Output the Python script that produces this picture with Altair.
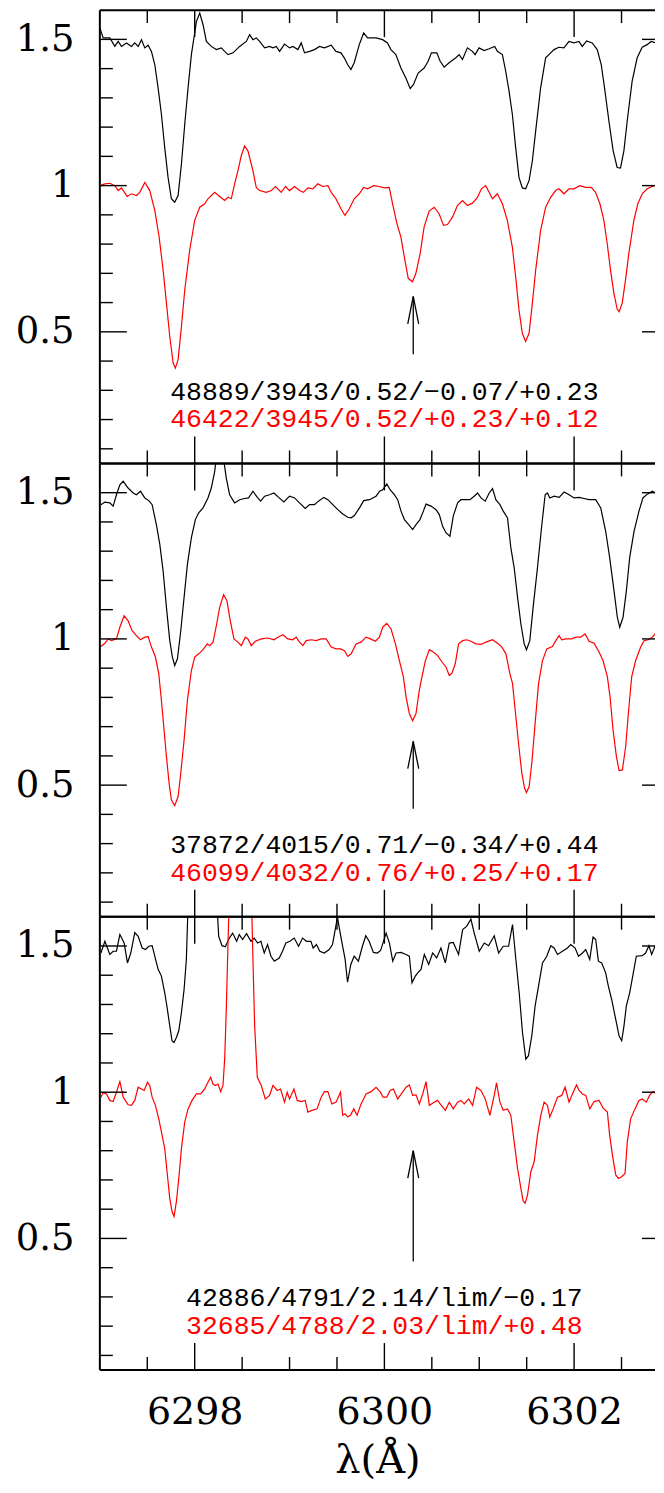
import altair as alt
import pandas as pd

# ---------------- data (wavelength in Angstrom, normalised flux) ----------------
p1_black = [(6297.000,1.539),(6297.035,1.505),(6297.105,1.505),(6297.158,1.476),(6297.193,1.493),(6297.228,1.476),(6297.281,1.488),(6297.333,1.476),(6297.368,1.488),(6297.404,1.476),(6297.439,1.499),(6297.474,1.471),(6297.509,1.480),(6297.544,1.459),(6297.579,1.414),(6297.614,1.334),(6297.649,1.244),(6297.684,1.130),(6297.719,1.028),(6297.754,0.955),(6297.789,0.943),(6297.825,0.966),(6297.860,1.074),(6297.895,1.210),(6297.930,1.334),(6297.965,1.448),(6298.018,1.561),(6298.053,1.590),(6298.088,1.550),(6298.123,1.493),(6298.175,1.476),(6298.228,1.465),(6298.281,1.471),(6298.316,1.459),(6298.351,1.448),(6298.404,1.454),(6298.474,1.476),(6298.544,1.493),(6298.579,1.516),(6298.614,1.499),(6298.649,1.505),(6298.684,1.493),(6298.737,1.471),(6298.789,1.476),(6298.825,1.471),(6298.860,1.476),(6298.895,1.459),(6298.947,1.484),(6299.000,1.471),(6299.035,1.476),(6299.088,1.465),(6299.123,1.488),(6299.158,1.454),(6299.211,1.459),(6299.263,1.465),(6299.316,1.476),(6299.368,1.471),(6299.439,1.480),
(6299.489,1.459),(6299.542,1.454),(6299.577,1.437),(6299.612,1.414),(6299.647,1.397),(6299.682,1.420),(6299.735,1.482),(6299.781,1.522),(6299.823,1.505),(6299.911,1.505),(6299.981,1.499),(6300.033,1.488),(6300.068,1.465),(6300.121,1.448),(6300.174,1.402),(6300.226,1.368),(6300.272,1.332),(6300.307,1.346),(6300.356,1.385),(6300.419,1.402),(6300.461,1.425),(6300.496,1.454),(6300.553,1.454),(6300.588,1.425),(6300.630,1.405),(6300.682,1.420),(6300.753,1.437),(6300.788,1.448),(6300.823,1.431),(6300.875,1.471),(6300.928,1.459),(6300.956,1.448),(6300.998,1.471),(6301.051,1.462),(6301.104,1.468),(6301.163,1.476),(6301.191,1.459),(6301.244,1.448),(6301.279,1.391),(6301.314,1.323),(6301.349,1.244),(6301.384,1.130),(6301.419,1.028),(6301.454,0.992),(6301.489,0.989),(6301.525,1.017),(6301.560,1.085),(6301.595,1.187),(6301.647,1.334),(6301.700,1.437),(6301.753,1.454),(6301.788,1.465),(6301.840,1.473),(6301.893,1.471),(6301.946,1.493),(6301.998,1.488),(6302.051,1.493),(6302.086,1.476),(6302.132,1.495),(6302.191,1.488),(6302.244,1.465),(6302.286,1.414),(6302.321,1.334),(6302.367,1.221),(6302.412,1.119),(6302.454,1.062),(6302.489,1.060),(6302.525,1.119),(6302.560,1.221),(6302.612,1.357),(6302.665,1.437),(6302.718,1.473),(6302.770,1.482),(6302.812,1.493),(6302.858,1.488),(6302.928,1.505)]

p1_red = [(6297.000,1.000),(6297.053,1.006),(6297.105,1.008),(6297.158,1.000),(6297.193,0.983),(6297.228,0.992),(6297.288,0.963),(6297.333,0.972),(6297.386,0.966),(6297.421,0.977),(6297.474,1.011),(6297.526,0.983),(6297.579,0.915),(6297.625,0.824),(6297.667,0.711),(6297.702,0.598),(6297.737,0.484),(6297.772,0.394),(6297.796,0.376),(6297.825,0.405),(6297.860,0.518),(6297.895,0.643),(6297.947,0.779),(6298.000,0.881),(6298.053,0.926),(6298.105,0.938),(6298.140,0.955),(6298.211,0.977),(6298.263,0.963),(6298.316,0.949),(6298.351,0.960),(6298.386,0.955),(6298.421,1.006),(6298.456,1.051),(6298.491,1.102),(6298.526,1.136),(6298.561,1.119),(6298.614,1.051),(6298.649,0.994),(6298.684,0.983),(6298.754,0.977),(6298.807,0.983),(6298.853,0.997),(6298.912,0.977),(6298.958,0.997),(6299.000,0.983),(6299.053,0.997),(6299.105,0.983),(6299.147,0.977),(6299.193,0.992),(6299.246,0.989),(6299.298,1.006),(6299.351,0.997),(6299.404,1.000),(6299.439,0.977),
(6299.489,0.955),(6299.542,0.921),(6299.584,0.898),(6299.630,0.921),(6299.682,0.955),(6299.735,0.972),(6299.781,0.994),(6299.823,0.989),(6299.886,1.000),(6299.946,0.997),(6299.998,0.992),(6300.051,0.994),(6300.086,0.938),(6300.132,0.870),(6300.174,0.824),(6300.216,0.745),(6300.251,0.683),(6300.296,0.671),(6300.332,0.700),(6300.377,0.768),(6300.419,0.859),(6300.472,0.913),(6300.525,0.926),(6300.577,0.904),(6300.623,0.864),(6300.665,0.867),(6300.718,0.892),(6300.770,0.932),(6300.823,0.949),(6300.875,0.932),(6300.928,0.940),(6300.981,0.960),(6301.023,0.989),(6301.068,1.000),(6301.104,0.977),(6301.139,0.955),(6301.191,0.972),(6301.244,0.938),(6301.296,0.881),(6301.349,0.790),(6301.384,0.688),(6301.419,0.575),(6301.454,0.495),(6301.489,0.467),(6301.525,0.495),(6301.560,0.598),(6301.595,0.711),(6301.647,0.847),(6301.700,0.926),(6301.753,0.960),(6301.805,0.983),(6301.840,0.989),(6301.893,0.972),(6301.946,0.989),(6301.998,0.989),(6302.061,1.000),(6302.121,0.994),(6302.181,0.994),(6302.226,0.977),(6302.272,0.938),(6302.314,0.881),(6302.349,0.802),(6302.384,0.711),(6302.419,0.633),(6302.454,0.578),(6302.475,0.569),(6302.507,0.598),(6302.542,0.677),(6302.577,0.768),(6302.630,0.881),(6302.672,0.938),(6302.718,0.972),(6302.770,0.989),(6302.840,1.000),(6302.928,1.000)]

p2_black = [(6297.011,1.459),(6297.053,1.468),(6297.105,1.465),(6297.140,1.454),(6297.175,1.493),(6297.211,1.527),(6297.246,1.539),(6297.298,1.516),(6297.351,1.499),(6297.386,1.493),(6297.428,1.505),(6297.474,1.482),(6297.516,1.473),(6297.551,1.459),(6297.596,1.391),(6297.632,1.323),(6297.667,1.232),(6297.702,1.108),(6297.737,0.994),(6297.765,0.938),(6297.789,0.909),(6297.818,0.932),(6297.853,1.028),(6297.888,1.142),(6297.923,1.255),(6297.965,1.346),(6298.007,1.408),(6298.042,1.431),(6298.088,1.448),(6298.140,1.482),(6298.175,1.516),(6298.211,1.573),(6298.235,1.640),(6298.265,1.680),(6298.298,1.630),(6298.333,1.550),(6298.368,1.493),(6298.421,1.465),(6298.474,1.476),(6298.526,1.480),(6298.568,1.482),(6298.614,1.505),(6298.660,1.484),(6298.695,1.471),(6298.737,1.488),(6298.789,1.493),(6298.835,1.499),(6298.884,1.484),(6298.940,1.468),(6299.000,1.488),(6299.053,1.482),(6299.105,1.465),(6299.165,1.446),(6299.211,1.459),(6299.263,1.459),(6299.305,1.471),(6299.361,1.484),(6299.404,1.476),(6299.456,1.459),(6299.509,1.442),(6299.561,1.427),(6299.614,1.416),(6299.649,1.414),(6299.684,1.422),(6299.737,1.448),(6299.782,1.473),(6299.842,1.476),(6299.912,1.488),(6299.950,1.505),(6299.982,1.510),(6300.025,1.530),
(6300.060,1.510),(6300.105,1.493),(6300.140,1.476),(6300.175,1.437),(6300.211,1.408),(6300.256,1.391),(6300.298,1.374),(6300.333,1.391),(6300.375,1.408),(6300.411,1.437),(6300.439,1.461),(6300.491,1.454),(6300.544,1.442),(6300.579,1.425),(6300.614,1.385),(6300.649,1.363),(6300.691,1.351),(6300.726,1.420),(6300.772,1.465),(6300.807,1.476),(6300.853,1.476),(6300.902,1.476),(6300.947,1.488),(6300.982,1.499),(6301.018,1.482),(6301.063,1.471),(6301.105,1.499),(6301.140,1.514),(6301.175,1.476),(6301.218,1.459),(6301.253,1.437),(6301.298,1.414),(6301.333,1.312),(6301.368,1.244),(6301.404,1.142),(6301.439,1.051),(6301.474,0.983),(6301.498,0.963),(6301.533,0.994),(6301.568,1.108),(6301.614,1.244),(6301.660,1.391),(6301.695,1.493),(6301.719,1.499),(6301.744,1.482),(6301.789,1.488),(6301.842,1.484),(6301.895,1.502),(6301.947,1.493),(6302.000,1.482),(6302.053,1.484),(6302.105,1.480),(6302.158,1.476),(6302.228,1.476),(6302.281,1.448),(6302.333,1.368),(6302.375,1.278),(6302.421,1.164),(6302.456,1.074),(6302.481,1.040),(6302.516,1.074),(6302.551,1.164),(6302.586,1.278),(6302.632,1.368),(6302.684,1.437),(6302.726,1.482),(6302.772,1.495),(6302.825,1.505),(6302.877,1.495),(6302.912,1.505),(6302.937,1.518)]

p2_red = [(6297.011,0.974),(6297.053,0.985),(6297.088,1.000),(6297.123,0.994),(6297.175,1.000),(6297.211,1.040),(6297.256,1.079),(6297.298,1.062),(6297.340,1.028),(6297.386,1.011),(6297.428,0.997),(6297.474,1.006),(6297.509,1.008),(6297.544,0.972),(6297.586,0.938),(6297.621,0.881),(6297.649,0.790),(6297.677,0.688),(6297.702,0.598),(6297.730,0.507),(6297.754,0.450),(6297.789,0.430),(6297.825,0.461),(6297.853,0.541),(6297.888,0.654),(6297.923,0.790),(6297.965,0.892),(6298.000,0.938),(6298.042,0.949),(6298.088,0.963),(6298.133,0.983),(6298.158,0.977),(6298.193,0.989),(6298.228,1.045),(6298.263,1.108),(6298.305,1.151),(6298.340,1.130),(6298.375,1.062),(6298.414,1.000),(6298.456,0.989),(6298.491,0.977),(6298.533,1.006),(6298.561,1.000),(6298.596,0.977),(6298.639,0.992),(6298.702,1.000),(6298.772,1.003),(6298.835,0.997),(6298.877,1.006),(6298.930,1.014),(6298.982,1.000),(6299.035,0.997),(6299.070,1.006),(6299.105,0.989),(6299.140,0.977),(6299.175,0.994),(6299.228,0.997),(6299.281,0.994),(6299.333,1.000),(6299.386,1.000),(6299.439,0.972),(6299.491,0.966),(6299.537,0.966),(6299.579,0.960),(6299.614,0.940),(6299.649,0.949),(6299.702,0.983),(6299.754,0.989),(6299.807,1.006),(6299.853,1.000),(6299.905,0.992),(6299.947,1.006),(6299.982,1.040),(6300.025,1.053),
(6300.070,1.034),(6300.116,0.983),(6300.158,0.926),(6300.200,0.870),(6300.228,0.802),(6300.263,0.745),(6300.298,0.720),(6300.333,0.745),(6300.368,0.824),(6300.396,0.870),(6300.432,0.926),(6300.474,0.963),(6300.516,0.955),(6300.561,0.943),(6300.607,0.921),(6300.649,0.904),(6300.684,0.875),(6300.712,0.883),(6300.747,0.915),(6300.782,0.983),(6300.825,0.994),(6300.867,0.997),(6300.912,0.992),(6300.965,0.983),(6301.018,0.981),(6301.070,0.989),(6301.140,0.997),(6301.193,0.985),(6301.239,0.972),(6301.281,0.949),(6301.323,0.881),(6301.351,0.847),(6301.379,0.756),(6301.414,0.643),(6301.449,0.541),(6301.477,0.490),(6301.498,0.475),(6301.526,0.495),(6301.554,0.575),(6301.589,0.711),(6301.625,0.847),(6301.667,0.926),(6301.712,0.966),(6301.772,0.974),(6301.807,0.994),(6301.842,1.011),(6301.870,0.997),(6301.912,1.000),(6301.975,1.000),(6302.018,1.006),(6302.070,1.006),(6302.116,1.017),(6302.158,0.992),(6302.211,0.985),(6302.263,0.955),(6302.305,0.926),(6302.351,0.870),(6302.379,0.802),(6302.411,0.688),(6302.446,0.598),(6302.474,0.550),(6302.509,0.552),(6302.544,0.632),(6302.572,0.745),(6302.607,0.870),(6302.649,0.926),(6302.702,0.972),(6302.737,0.994),(6302.782,0.997),(6302.825,1.006),(6302.853,1.017),(6302.895,1.000),(6302.937,1.000)]

p3_black = [(6297.011,1.476),(6297.053,1.516),(6297.105,1.471),(6297.140,1.482),(6297.175,1.482),(6297.211,1.539),(6297.256,1.510),(6297.291,1.442),(6297.326,1.476),(6297.368,1.546),(6297.404,1.533),(6297.446,1.493),(6297.481,1.488),(6297.516,1.499),(6297.551,1.501),(6297.579,1.465),(6297.614,1.420),(6297.649,1.397),(6297.684,1.340),(6297.712,1.283),(6297.737,1.227),(6297.761,1.176),(6297.782,1.170),(6297.807,1.187),(6297.832,1.210),(6297.860,1.272),(6297.888,1.351),(6297.912,1.454),(6297.930,1.640),(6297.960,1.800),(6298.200,1.800),(6298.235,1.640),(6298.253,1.533),(6298.288,1.501),(6298.323,1.497),(6298.365,1.527),(6298.400,1.544),(6298.442,1.516),(6298.470,1.539),(6298.505,1.522),(6298.547,1.542),(6298.593,1.516),(6298.628,1.527),(6298.663,1.510),(6298.698,1.516),(6298.733,1.476),(6298.768,1.505),(6298.804,1.465),(6298.839,1.448),(6298.891,1.459),(6298.926,1.482),(6298.961,1.510),(6299.004,1.516),(6299.049,1.527),(6299.095,1.499),(6299.137,1.527),(6299.179,1.516),(6299.225,1.516),(6299.249,1.493),(6299.284,1.505),(6299.319,1.482),(6299.365,1.476),(6299.418,1.488),(6299.453,1.505),(6299.505,1.599),(6299.540,1.533),(6299.586,1.454),(6299.611,1.376),(6299.646,1.437),(6299.681,1.465),(6299.726,1.448),(6299.768,1.499),(6299.804,1.535),(6299.839,1.516),(6299.884,1.478),(6299.926,1.476),(6299.960,1.485),
(6300.018,1.544),(6300.053,1.510),(6300.088,1.448),(6300.123,1.476),(6300.175,1.478),(6300.228,1.471),(6300.263,1.465),(6300.291,1.374),(6300.326,1.397),(6300.351,1.408),(6300.386,1.420),(6300.421,1.471),(6300.467,1.437),(6300.509,1.476),(6300.551,1.459),(6300.596,1.493),(6300.642,1.442),(6300.684,1.510),(6300.726,1.512),(6300.782,1.471),(6300.825,1.556),(6300.867,1.567),(6300.912,1.592),(6300.947,1.544),(6301.000,1.482),(6301.053,1.510),(6301.098,1.501),(6301.158,1.535),(6301.204,1.476),(6301.253,1.499),(6301.309,1.499),(6301.351,1.573),(6301.386,1.454),(6301.421,1.340),(6301.456,1.204),(6301.491,1.113),(6301.519,1.125),(6301.554,1.193),(6301.589,1.295),(6301.625,1.363),(6301.667,1.442),(6301.712,1.465),(6301.754,1.501),(6301.789,1.493),(6301.825,1.471),(6301.877,1.482),(6301.930,1.493),(6301.965,1.505),(6302.011,1.493),(6302.046,1.465),(6302.088,1.476),(6302.123,1.488),(6302.165,1.454),(6302.200,1.531),(6302.228,1.522),(6302.256,1.448),(6302.291,1.442),(6302.333,1.408),(6302.361,1.363),(6302.396,1.317),(6302.439,1.249),(6302.474,1.193),(6302.502,1.176),(6302.526,1.227),(6302.551,1.295),(6302.586,1.340),(6302.621,1.402),(6302.656,1.465),(6302.719,1.467),(6302.754,1.476),(6302.789,1.501),(6302.818,1.471),(6302.853,1.499),(6302.888,1.476),(6302.937,1.478)]

p3_red = [(6297.011,0.983),(6297.035,0.998),(6297.070,0.994),(6297.105,0.972),(6297.140,0.968),(6297.175,1.000),(6297.211,1.036),(6297.246,0.983),(6297.298,0.957),(6297.333,0.955),(6297.368,0.972),(6297.404,1.017),(6297.439,1.011),(6297.467,1.006),(6297.502,1.034),(6297.526,1.023),(6297.551,0.983),(6297.586,0.955),(6297.621,0.909),(6297.649,0.864),(6297.684,0.807),(6297.712,0.717),(6297.737,0.637),(6297.761,0.592),(6297.782,0.575),(6297.807,0.626),(6297.832,0.705),(6297.860,0.807),(6297.895,0.898),(6297.930,0.943),(6297.972,0.972),(6298.018,0.994),(6298.063,0.994),(6298.105,1.011),(6298.140,1.034),(6298.168,1.051),(6298.193,1.028),(6298.218,1.023),(6298.246,1.028),(6298.274,1.002),(6298.298,1.023),(6298.316,1.113),(6298.333,1.283),(6298.351,1.510),(6298.368,1.700),(6298.400,2.000),(6298.570,2.000),(6298.596,1.700),(6298.614,1.454),(6298.632,1.227),(6298.660,1.051),(6298.702,1.023),(6298.744,0.977),(6298.789,0.989),(6298.825,1.023),(6298.870,1.006),(6298.905,1.011),(6298.947,0.966),(6298.975,1.000),(6299.000,0.977),(6299.046,1.011),(6299.081,0.972),(6299.123,0.968),(6299.165,0.972),(6299.193,0.932),(6299.235,0.938),(6299.291,0.943),(6299.333,0.983),(6299.368,1.002),(6299.404,1.002),(6299.446,0.960),(6299.491,0.966),(6299.537,1.000),(6299.561,0.921),(6299.586,0.926),(6299.614,0.915),(6299.642,0.921),(6299.677,0.943),(6299.712,0.921),(6299.754,0.960),(6299.807,0.994),(6299.860,1.002),(6299.912,1.017),(6299.958,1.000),(6299.986,0.983),
(6300.025,0.983),(6300.060,1.006),(6300.095,1.011),(6300.140,0.977),(6300.186,0.998),(6300.228,1.017),(6300.263,1.025),(6300.298,0.989),(6300.333,0.991),(6300.368,0.960),(6300.404,0.994),(6300.439,1.036),(6300.474,0.955),(6300.516,0.964),(6300.561,0.972),(6300.596,0.957),(6300.642,0.938),(6300.684,0.966),(6300.726,0.943),(6300.772,0.966),(6300.807,0.972),(6300.842,0.960),(6300.888,0.977),(6300.930,0.955),(6300.972,1.017),(6301.018,1.006),(6301.063,0.977),(6301.112,0.921),(6301.158,0.989),(6301.182,1.032),(6301.218,0.966),(6301.253,0.938),(6301.298,0.943),(6301.333,0.921),(6301.368,0.830),(6301.404,0.739),(6301.439,0.671),(6301.463,0.628),(6301.484,0.620),(6301.509,0.649),(6301.544,0.728),(6301.579,0.762),(6301.614,0.853),(6301.649,0.921),(6301.684,0.966),(6301.719,0.955),(6301.744,0.915),(6301.779,0.943),(6301.825,0.983),(6301.870,0.989),(6301.905,1.017),(6301.947,0.966),(6301.982,0.994),(6302.025,1.025),(6302.053,1.006),(6302.088,0.994),(6302.123,0.989),(6302.165,0.943),(6302.211,0.968),(6302.263,0.972),(6302.305,0.946),(6302.351,0.932),(6302.375,0.853),(6302.404,0.785),(6302.439,0.717),(6302.467,0.705),(6302.502,0.711),(6302.537,0.722),(6302.561,0.830),(6302.596,0.909),(6302.642,0.943),(6302.684,0.972),(6302.719,0.977),(6302.761,0.966),(6302.796,0.989),(6302.832,1.002),(6302.867,0.994),(6302.902,1.006),(6302.937,1.002)]

labels_black = ["48889/3943/0.52/\u22120.07/+0.23", "37872/4015/0.71/\u22120.34/+0.44", "42886/4791/2.14/lim/\u22120.17"]
labels_red = ["46422/3945/0.52/+0.23/+0.12", "46099/4032/0.76/+0.25/+0.17", "32685/4788/2.03/lim/+0.48"]

arrow_wl = 6300.304
arrow_tip = [0.621, 0.650, 0.800]
arrow_tail = [0.423, 0.419, 0.421]

y_major = [0.5, 1.0, 1.5]
y_minor = [0.1, 0.2, 0.3, 0.4, 0.6, 0.7, 0.8, 0.9, 1.1, 1.2, 1.3, 1.4]
x_major = [6298, 6300, 6302]
x_minor = [6297.5, 6298.5, 6299, 6299.5, 6300.5, 6301, 6301.5, 6302.5]

# ---------------- layout / style ----------------
W = 556            # plot right edge kept inside the page (no horizontal overflow)
H = 454
XDOM = [6297.0, 6302.853]
YDOM = [0.05, 1.6]
AXFONT = "DejaVu Serif"
TXTFONT = "Liberation Mono"

xscale = alt.Scale(domain=XDOM, nice=False, zero=False)
yscale = alt.Scale(domain=YDOM, nice=False, zero=False)
one = pd.DataFrame({"k": [0]})


def spec_df(black, red):
    rows = [{"wl": w, "flux": f, "series": "black"} for w, f in black]
    rows += [{"wl": w, "flux": f, "series": "red"} for w, f in red]
    return pd.DataFrame(rows)


def panel(i, black, red, show_x):
    if show_x:
        xaxis = alt.Axis(values=x_major, format="d", ticks=False, domain=False, grid=False,
                         labelFont=AXFONT, labelFontSize=38, labelColor="black", labelPadding=24,
                         labelFlush=False, title="\u03bb(\u00c5)", titleFont=AXFONT, titleFontSize=40,
                         titleFontWeight="normal", titleColor="black", titlePadding=9)
    else:
        xaxis = None
    yaxis = alt.Axis(values=y_major, format="~g", ticks=False, domain=False, grid=False,
                     labelFont=AXFONT, labelFontSize=37, labelColor="black", labelPadding=26,
                     title=None)
    X = alt.X("wl:Q", scale=xscale, axis=xaxis)
    Y = alt.Y("flux:Q", scale=yscale, axis=yaxis)

    lines = alt.Chart(spec_df(black, red)).mark_line(strokeWidth=1.2, clip=True).encode(
        x=X, y=Y,
        color=alt.Color("series:N", scale=alt.Scale(domain=["black", "red"], range=["#000000", "#ff0000"]), legend=None),
    )
    rule = dict(color="black", strokeWidth=2)
    frame_l = alt.Chart(one).mark_rule(**rule).encode(x=alt.value(0), y=alt.value(0), y2=alt.value(H))
    frame_t = alt.Chart(one).mark_rule(**rule).encode(x=alt.value(0), x2=alt.value(W), y=alt.value(0))
    frame_b = alt.Chart(one).mark_rule(**rule).encode(x=alt.value(0), x2=alt.value(W), y=alt.value(H))

    tk = dict(color="black", strokeWidth=1.4)
    ymaj = pd.DataFrame({"flux": y_major})
    ymin = pd.DataFrame({"flux": y_minor})
    xmaj = pd.DataFrame({"wl": x_major})
    xmin = pd.DataFrame({"wl": x_minor})
    t1 = alt.Chart(ymaj).mark_rule(**tk).encode(y=Y, x=alt.value(0), x2=alt.value(27))
    t2 = alt.Chart(ymaj).mark_rule(**tk).encode(y=Y, x=alt.value(W - 13), x2=alt.value(W))
    t3 = alt.Chart(ymin).mark_rule(**tk).encode(y=Y, x=alt.value(0), x2=alt.value(13))
    t5 = alt.Chart(xmaj).mark_rule(**tk).encode(x=X, y=alt.value(0), y2=alt.value(27))
    t6 = alt.Chart(xmaj).mark_rule(**tk).encode(x=X, y=alt.value(H - 27), y2=alt.value(H))
    t7 = alt.Chart(xmin).mark_rule(**tk).encode(x=X, y=alt.value(0), y2=alt.value(13))
    t8 = alt.Chart(xmin).mark_rule(**tk).encode(x=X, y=alt.value(H - 13), y2=alt.value(H))

    tb = alt.Chart(pd.DataFrame({"wl": [6300.0], "txt": [labels_black[i]]})).mark_text(
        font=TXTFONT, fontSize=26.5, align="center", baseline="alphabetic", color="black"
    ).encode(x=X, y=alt.value(390), text="txt:N")
    tr = alt.Chart(pd.DataFrame({"wl": [6300.0], "txt": [labels_red[i]]})).mark_text(
        font=TXTFONT, fontSize=26.5, align="center", baseline="alphabetic", color="#ff0000"
    ).encode(x=X, y=alt.value(418), text="txt:N")

    adf = pd.DataFrame({"wl": [arrow_wl], "flux": [arrow_tip[i]], "flux2": [arrow_tail[i]]})
    shaft = alt.Chart(adf).mark_rule(color="black", strokeWidth=1.3).encode(x=X, y=Y, y2="flux2:Q")
    head = alt.Chart(adf).mark_point(shape="M-0.4,2L0,0L0.4,2", size=750, filled=False,
                                     color="black", strokeWidth=1.3, opacity=1).encode(x=X, y=Y)

    return alt.layer(lines, t1, t2, t3, t5, t6, t7, t8, frame_l, frame_t, frame_b,
                     tb, tr, shaft, head).properties(width=W, height=H)


chart = alt.vconcat(
    panel(0, p1_black, p1_red, False),
    panel(1, p2_black, p2_red, False),
    panel(2, p3_black, p3_red, True),
    spacing=0, bounds="flush",
).configure_view(stroke=None).properties(
    padding={"left": 7, "top": 0, "right": 0, "bottom": 0},
    background="white",
)

chart.save("out.html", embed_options={"renderer": "svg", "actions": False})
